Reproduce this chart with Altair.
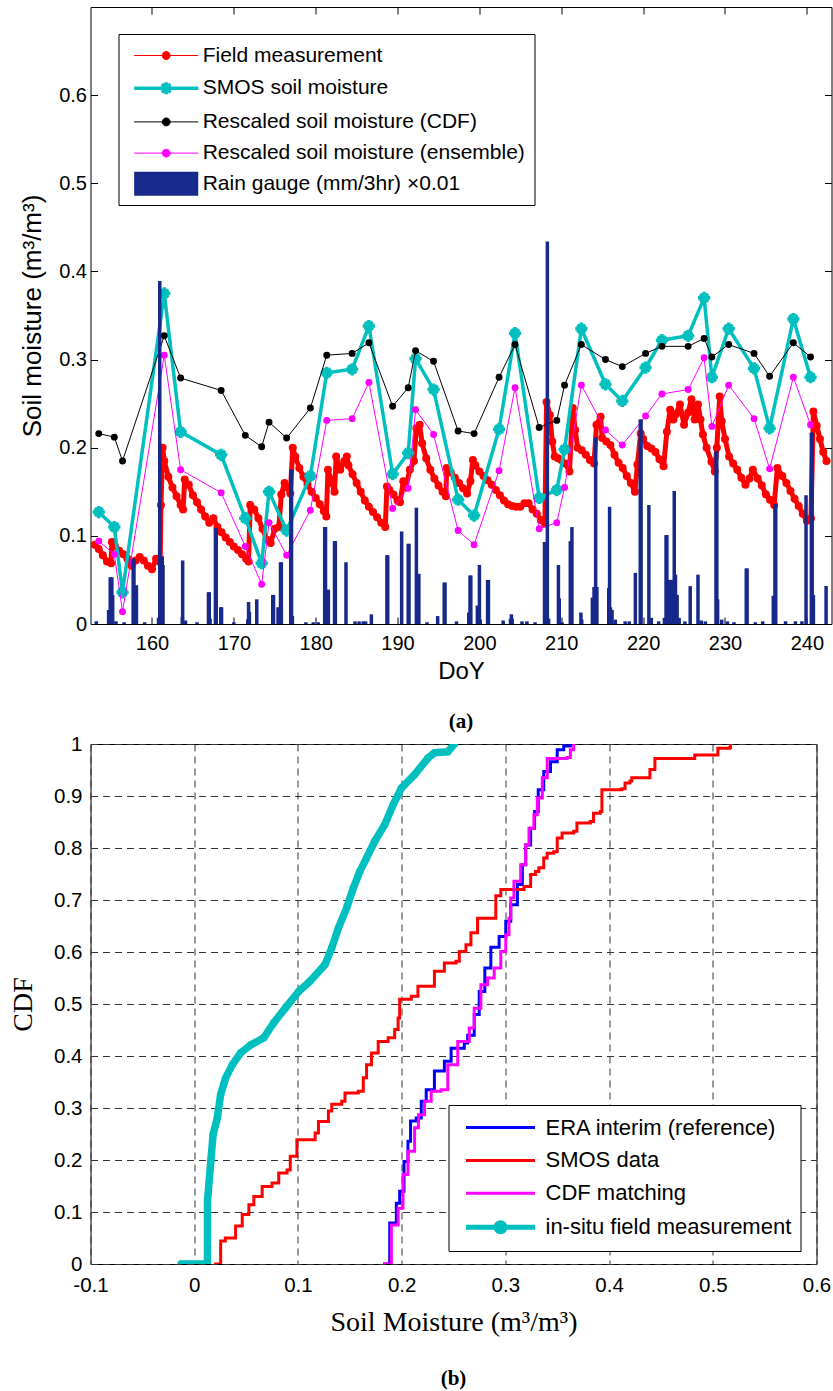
import altair as alt
import pandas as pd

SANS = "Liberation Sans"
SERIF = "Liberation Serif"
CYAN = "#00BFBF"
NAVY = "#18298C"

# ---------------- (a) soil moisture time series ----------------
# field measurement (DoY, m3/m3)
field_obs = [
    (153.0, 0.090), (153.5, 0.085), (154.0, 0.078), (154.5, 0.071), (155.0, 0.069), (155.1, 0.093),
    (155.5, 0.088), (156.0, 0.083), (156.5, 0.079), (157.0, 0.074), (157.5, 0.066), (158.0, 0.072),
    (158.5, 0.076), (159.0, 0.072), (159.5, 0.066), (160.0, 0.062), (160.5, 0.074), (161.0, 0.070),
    (161.1, 0.135), (161.3, 0.200), (161.5, 0.185), (162.0, 0.167), (162.5, 0.155), (163.0, 0.145),
    (163.5, 0.135), (163.8, 0.130), (164.0, 0.164), (164.5, 0.158), (165.0, 0.146), (165.5, 0.138),
    (166.0, 0.130), (166.5, 0.122), (167.0, 0.115), (167.5, 0.120), (168.0, 0.110), (168.5, 0.104),
    (169.0, 0.098), (169.5, 0.093), (170.0, 0.088), (170.5, 0.084), (171.0, 0.079), (171.5, 0.074),
    (171.8, 0.071), (172.0, 0.135), (172.5, 0.130), (173.0, 0.120), (173.5, 0.108), (174.0, 0.096),
    (174.5, 0.092), (175.0, 0.108), (175.5, 0.110), (175.8, 0.147), (176.2, 0.160), (176.5, 0.155),
    (176.9, 0.148), (177.2, 0.200), (177.5, 0.190), (178.0, 0.177), (178.5, 0.167), (179.0, 0.158),
    (179.5, 0.150), (180.0, 0.143), (180.5, 0.136), (181.0, 0.128), (181.3, 0.122), (181.5, 0.175),
    (182.0, 0.160), (182.3, 0.150), (182.5, 0.190), (183.0, 0.175), (183.5, 0.185), (183.8, 0.190),
    (184.0, 0.180), (184.5, 0.170), (185.0, 0.160), (185.5, 0.150), (186.0, 0.140), (186.5, 0.133),
    (187.0, 0.127), (187.5, 0.121), (188.0, 0.115), (188.5, 0.110), (188.7, 0.156), (189.0, 0.152),
    (189.5, 0.147), (190.0, 0.140), (190.3, 0.138), (190.7, 0.162), (191.0, 0.155), (191.5, 0.175),
    (192.0, 0.185), (192.3, 0.222), (192.7, 0.226), (193.0, 0.205), (193.5, 0.188), (194.0, 0.175),
    (194.5, 0.165), (195.0, 0.157), (195.5, 0.150), (195.9, 0.145), (196.0, 0.177), (196.5, 0.172),
    (197.0, 0.166), (197.5, 0.160), (198.0, 0.154), (198.5, 0.148), (198.9, 0.162), (199.2, 0.186),
    (199.5, 0.180), (200.0, 0.173), (200.5, 0.168), (201.0, 0.163), (201.5, 0.158), (202.0, 0.152),
    (202.5, 0.146), (203.0, 0.140), (203.5, 0.136), (204.0, 0.134), (204.5, 0.133), (205.0, 0.133),
    (205.5, 0.137), (206.0, 0.137), (206.5, 0.130), (207.0, 0.125), (207.5, 0.118), (208.0, 0.114),
    (208.2, 0.252), (208.6, 0.237), (208.9, 0.207), (209.2, 0.190), (209.6, 0.188), (210.0, 0.186),
    (210.5, 0.182), (211.0, 0.173), (211.4, 0.245), (211.7, 0.220), (212.0, 0.200), (212.5, 0.197),
    (213.0, 0.192), (213.5, 0.186), (214.0, 0.182), (214.3, 0.226), (214.8, 0.235), (215.0, 0.211),
    (215.5, 0.207), (216.0, 0.203), (216.5, 0.192), (217.0, 0.183), (217.5, 0.177), (218.0, 0.168),
    (218.5, 0.160), (219.0, 0.150), (219.3, 0.181), (219.7, 0.216), (220.0, 0.210), (220.5, 0.202),
    (221.0, 0.199), (221.5, 0.195), (222.0, 0.187), (222.5, 0.179), (222.9, 0.218), (223.3, 0.243),
    (223.7, 0.232), (224.0, 0.238), (224.5, 0.249), (225.0, 0.226), (225.5, 0.240), (225.9, 0.255),
    (226.3, 0.232), (226.7, 0.249), (227.0, 0.232), (227.3, 0.215), (227.75, 0.200), (228.35, 0.184),
    (228.75, 0.173), (229.0, 0.200), (229.35, 0.258), (229.6, 0.230), (230.0, 0.210), (230.5, 0.190),
    (231.0, 0.182), (231.5, 0.175), (232.0, 0.166), (232.5, 0.158), (233.0, 0.165), (233.4, 0.175),
    (234.0, 0.165), (234.5, 0.157), (235.0, 0.147), (235.5, 0.141), (236.0, 0.135), (236.4, 0.177),
    (237.0, 0.168), (237.5, 0.160), (238.0, 0.151), (238.5, 0.142), (239.0, 0.134), (239.5, 0.125),
    (240.0, 0.117), (240.5, 0.120), (240.8, 0.241), (241.2, 0.225), (241.6, 0.210), (242.0, 0.195),
    (242.4, 0.185),
]

# SMOS overpass days and the three satellite-based series
sat_doy = [153.5, 155.4, 156.4, 161.5, 163.5, 168.45, 171.4, 173.4, 174.3, 176.45, 179.35, 181.35,
           184.45, 186.5, 189.4, 191.3, 192.2, 194.4, 197.4, 199.35, 202.4, 204.35, 207.3, 209.45,
           210.4, 212.45, 215.4, 217.45, 220.3, 222.3, 225.5, 227.45, 228.4, 230.45, 233.55, 235.45,
           238.35, 240.45]
smos_sm = [0.127, 0.110, 0.036, 0.375, 0.218, 0.192, 0.120, 0.069, 0.150, 0.106, 0.168, 0.285,
           0.289, 0.338, 0.170, 0.194, 0.301, 0.266, 0.141, 0.123, 0.221, 0.330, 0.143, 0.152,
           0.198, 0.335, 0.272, 0.253, 0.291, 0.322, 0.327, 0.370, 0.280, 0.335, 0.290, 0.222,
           0.346, 0.280]
cdf_sm = [0.216, 0.212, 0.185, 0.327, 0.279, 0.265, 0.214, 0.201, 0.229, 0.211, 0.245, 0.305,
          0.307, 0.319, 0.247, 0.268, 0.310, 0.298, 0.219, 0.216, 0.280, 0.317, 0.223, 0.231,
          0.271, 0.317, 0.300, 0.292, 0.307, 0.315, 0.315, 0.324, 0.303, 0.317, 0.307, 0.281,
          0.319, 0.303]
ens_sm = [0.094, 0.079, 0.014, 0.305, 0.175, 0.149, 0.088, 0.045, 0.115, 0.078, 0.129, 0.231,
          0.233, 0.274, 0.131, 0.154, 0.243, 0.215, 0.106, 0.090, 0.174, 0.268, 0.108, 0.115,
          0.155, 0.271, 0.220, 0.203, 0.236, 0.261, 0.266, 0.302, 0.224, 0.271, 0.233, 0.176,
          0.280, 0.226]

# rain gauge (DoY, mm per 3 hr)
rain_obs = [
    (153.2, 0.3), (154.7, 1.6), (154.9, 5.3), (155.1, 5.3), (155.2, 3.3), (155.6, 0.3), (156.6, 0.2),
    (157.7, 7.4), (157.8, 7.4), (158.1, 4.4), (159.1, 0.2), (160.8, 0.7), (160.95, 38.9), (161.25, 7.7),
    (161.35, 6.7), (163.7, 0.8), (163.75, 7.2), (164.1, 0.4), (165.5, 0.2), (166.9, 3.6), (167.0, 3.6),
    (167.1, 0.6), (167.75, 10.9), (167.85, 10.9), (168.4, 1.9), (168.5, 1.9), (170.0, 0.2), (171.7, 0.5),
    (171.8, 2.5), (171.9, 1.4), (172.8, 2.8), (174.75, 3.3), (174.85, 3.3), (175.4, 1.9), (175.7, 7.0),
    (175.8, 7.0), (176.95, 17.5), (177.05, 17.5), (177.15, 0.9), (178.8, 0.2), (179.7, 0.2), (180.3, 0.2),
    (181.1, 11.0), (181.2, 11.0), (181.55, 3.9), (182.3, 9.4), (182.4, 9.4), (183.7, 7.0), (184.8, 0.3),
    (185.3, 0.3), (185.8, 0.3), (186.1, 0.3), (186.8, 1.1), (188.7, 7.8), (188.8, 7.8), (190.5, 10.5),
    (191.3, 9.1), (191.4, 9.1), (192.3, 13.2), (192.6, 5.7), (193.6, 0.2), (194.9, 0.9), (195.7, 4.7),
    (195.8, 4.7), (197.2, 0.3), (198.7, 1.3), (198.85, 5.5), (198.95, 5.5), (199.75, 2.1), (200.0, 6.7),
    (200.1, 0.5), (201.0, 5.0), (201.1, 5.0), (202.9, 0.4), (203.8, 0.6), (203.9, 1.1), (204.0, 0.6),
    (205.2, 0.3), (205.8, 0.3), (206.8, 0.2), (207.95, 9.3), (208.3, 43.4), (208.45, 0.6), (209.65, 6.7),
    (209.75, 2.9), (210.1, 0.2), (211.1, 9.4), (211.3, 11.0), (212.4, 1.3), (212.5, 0.5), (213.8, 3.0),
    (214.0, 4.2), (214.2, 21.2), (214.35, 4.2), (215.8, 4.1), (215.9, 13.3), (216.0, 1.9), (216.2, 1.6),
    (216.6, 0.5), (217.8, 0.3), (218.3, 0.3), (219.05, 5.8), (219.65, 23.2), (219.75, 23.2), (220.7, 13.5),
    (221.0, 0.7), (221.9, 0.3), (222.6, 0.7), (222.8, 10.1), (222.9, 10.1), (223.2, 5.0), (223.35, 5.0),
    (223.5, 5.0), (223.8, 15.1), (223.95, 5.6), (224.15, 3.3), (224.4, 0.7), (225.1, 0.3), (225.75, 4.3),
    (226.7, 5.6), (227.1, 0.4), (227.6, 0.3), (228.9, 19.6), (229.0, 19.6), (229.1, 2.8), (229.6, 0.5),
    (230.3, 0.3), (231.1, 0.2), (232.6, 6.3), (232.7, 6.3), (233.7, 0.2), (234.6, 0.3), (235.9, 3.2),
    (236.1, 13.6), (236.2, 13.6), (237.4, 0.3), (238.6, 0.3), (239.4, 0.3), (239.9, 14.6), (240.55, 21.7),
    (240.65, 21.7), (240.8, 3.3), (242.35, 4.3),
]
RAIN_FACTOR = 0.01

legend_a = ["Field measurement", "SMOS soil moisture", "Rescaled soil moisture (CDF)",
            "Rescaled soil moisture (ensemble)", "Rain gauge (mm/3hr) \u00d70.01"]

# ---------------- (b) empirical CDFs (soil moisture, cumulative probability) ----------------
era_cdf = [(0.1822, 0.0), (0.1885, 0.079), (0.1949, 0.117), (0.1981, 0.140), (0.2023, 0.197),
           (0.2061, 0.236), (0.2086, 0.275), (0.2141, 0.281), (0.2189, 0.313), (0.2237, 0.335),
           (0.2316, 0.371), (0.2412, 0.390), (0.2477, 0.415), (0.2604, 0.425), (0.2637, 0.440),
           (0.2700, 0.480), (0.2748, 0.524), (0.2802, 0.569), (0.2860, 0.609), (0.2940, 0.630),
           (0.3004, 0.659), (0.3052, 0.691), (0.3116, 0.730), (0.3164, 0.768), (0.3196, 0.806),
           (0.3244, 0.838), (0.3282, 0.870), (0.3317, 0.912), (0.3370, 0.947), (0.3435, 0.966),
           (0.3500, 0.989), (0.3563, 0.996), (0.3627, 1.0)]
smos_cdf = [(0.0192, 0.0), (0.0255, 0.044), (0.0300, 0.050), (0.0399, 0.073), (0.0463, 0.095),
            (0.0527, 0.114), (0.0575, 0.130), (0.0655, 0.149), (0.0750, 0.156), (0.0815, 0.175),
            (0.0895, 0.181), (0.0926, 0.207), (0.0990, 0.239), (0.1100, 0.239), (0.1166, 0.252),
            (0.1198, 0.274), (0.1294, 0.294), (0.1326, 0.307), (0.1422, 0.313), (0.1454, 0.329),
            (0.1582, 0.332), (0.1630, 0.358), (0.1662, 0.383), (0.1710, 0.406), (0.1774, 0.428),
            (0.1870, 0.435), (0.1933, 0.451), (0.1966, 0.473), (0.1981, 0.509), (0.2093, 0.515),
            (0.2157, 0.534), (0.2269, 0.534), (0.2316, 0.563), (0.2412, 0.579), (0.2524, 0.582),
            (0.2556, 0.601), (0.2620, 0.614), (0.2668, 0.637), (0.2732, 0.665), (0.2860, 0.665),
            (0.2908, 0.708), (0.2956, 0.720), (0.3083, 0.720), (0.3180, 0.726), (0.3244, 0.749),
            (0.3290, 0.755), (0.3323, 0.762), (0.3370, 0.781), (0.3403, 0.790), (0.3467, 0.793),
            (0.3500, 0.819), (0.3547, 0.829), (0.3659, 0.832), (0.3690, 0.848), (0.3819, 0.851),
            (0.3850, 0.867), (0.3915, 0.870), (0.3931, 0.912), (0.4123, 0.914), (0.4154, 0.925),
            (0.4202, 0.929), (0.4219, 0.935), (0.4346, 0.935), (0.4394, 0.951), (0.4442, 0.972),
            (0.4809, 0.972), (0.4826, 0.979), (0.5001, 0.979), (0.5049, 0.992), (0.5161, 0.993),
            (0.5170, 1.0)]
match_cdf = [(0.1822, 0.0), (0.1901, 0.075), (0.1966, 0.107), (0.2013, 0.172), (0.2061, 0.217),
             (0.2125, 0.262), (0.2163, 0.287), (0.2221, 0.313), (0.2285, 0.332), (0.2380, 0.335),
             (0.2445, 0.383), (0.2541, 0.428), (0.2652, 0.454), (0.2700, 0.492), (0.2764, 0.537),
             (0.2828, 0.550), (0.2892, 0.569), (0.2956, 0.601), (0.3004, 0.633), (0.3035, 0.665),
             (0.3052, 0.704), (0.3083, 0.736), (0.3148, 0.768), (0.3196, 0.806), (0.3228, 0.838),
             (0.3275, 0.864), (0.3308, 0.896), (0.3356, 0.935), (0.3404, 0.972), (0.3595, 0.974),
             (0.3627, 0.989), (0.3659, 1.0)]
insitu_cdf = [(-0.0125, 0.0), (0.0128, 0.0), (0.0128, 0.121), (0.0160, 0.198), (0.0182, 0.249),
              (0.0223, 0.281), (0.0255, 0.326), (0.0303, 0.358), (0.0367, 0.383), (0.0447, 0.406),
              (0.0543, 0.421), (0.0671, 0.435), (0.0767, 0.464), (0.0878, 0.492), (0.1007, 0.524),
              (0.1118, 0.544), (0.1262, 0.576), (0.1326, 0.608), (0.1390, 0.646), (0.1470, 0.685),
              (0.1534, 0.723), (0.1597, 0.755), (0.1662, 0.781), (0.1741, 0.813), (0.1837, 0.845),
              (0.1918, 0.883), (0.1997, 0.915), (0.2125, 0.941), (0.2253, 0.973), (0.2316, 0.983),
              (0.2445, 0.985), (0.2508, 1.0)]

legend_b = ["ERA interim (reference)", "SMOS data", "CDF matching", "in-situ field measurement"]

# ---------------- data frames ----------------
field_df = pd.DataFrame(field_obs, columns=["doy", "sm"])
field_df["i"] = range(len(field_df))
sat_df = pd.DataFrame({"doy": sat_doy, "smos": smos_sm, "cdf": cdf_sm, "ens": ens_sm})
sat_df["i"] = range(len(sat_df))
rain_df = pd.DataFrame(rain_obs, columns=["doy", "mm"])
rain_df["sm"] = rain_df["mm"] * RAIN_FACTOR


def cdf_frame(pairs):
    df = pd.DataFrame(pairs, columns=["sm", "p"])
    df["i"] = range(len(df))
    return df


era_df, smos_df, match_df, insitu_df = (cdf_frame(c) for c in (era_cdf, smos_cdf, match_cdf, insitu_cdf))


def key_layer(labels, colors, widths, shapes, legend):
    """Empty layer whose fill/stroke/width/shape scales build a line-and-marker legend."""
    return alt.Chart(pd.DataFrame({"series": labels})).transform_filter("false").mark_point(
        size=576, opacity=1).encode(
        fill=alt.Fill("series:N", scale=alt.Scale(domain=labels, range=colors), legend=legend),
        stroke=alt.Stroke("series:N", scale=alt.Scale(domain=labels, range=colors)),
        strokeWidth=alt.StrokeWidth("series:N",
                                    scale=alt.Scale(type="ordinal", domain=labels, range=widths)),
        shape=alt.Shape("series:N", scale=alt.Scale(domain=labels, range=shapes)),
    )


# ---------------- panel (a) ----------------
xs_a = alt.Scale(domain=[153.1, 242.4], nice=False, zero=False)
ys_a = alt.Scale(domain=[0, 0.7], nice=False, zero=False)
inward = dict(offset=-7, tickSize=7, tickColor="black", tickWidth=1, domain=False, grid=False)

ax_bottom = alt.Axis(orient="bottom", values=list(range(160, 241, 10)), format="d",
                     labelFont=SANS, labelFontSize=20, labelColor="black", labelPadding=9,
                     labelFlush=False, labelOverlap=False,
                     title="DoY", titleFont=SANS, titleFontSize=24, titleFontWeight="normal",
                     titleColor="black", titlePadding=6, **inward)
ax_left = alt.Axis(orient="left", values=[0, 0.1, 0.2, 0.3, 0.4, 0.5, 0.6], format=".1~f",
                   labelFont=SANS, labelFontSize=20, labelColor="black", labelPadding=4,
                   labelFlush=False, labelOverlap=False,
                   title="Soil moisture (m\u00b3/m\u00b3)", titleFont=SANS, titleFontSize=26,
                   titleFontWeight="normal", titleColor="black", titlePadding=13, **inward)
ax_top = alt.Axis(orient="top", values=list(range(160, 241, 10)), labels=False, title=None, **inward)
ax_right = alt.Axis(orient="right", values=[0, 0.1, 0.2, 0.3, 0.4, 0.5, 0.6], labels=False,
                    title=None, **inward)


def xa(axis=None):
    return alt.X("doy:Q", scale=xs_a, axis=axis)


def ya(field, axis=None):
    return alt.Y(f"{field}:Q", scale=ys_a, axis=axis)


star = "M-1,0L1,0M0,-1L0,1M-0.65,-0.65L0.65,0.65M-0.65,0.65L0.65,-0.65"

# field record is 3-hourly: a broad stroke under the markers renders the dense dot band
field_line = alt.Chart(field_df).mark_line(color="red", strokeWidth=5, strokeJoin="round",
                                           strokeCap="round", clip=True).encode(
    x=xa(ax_bottom), y=ya("sm", ax_left), order="i:Q")
field_pts = alt.Chart(field_df).mark_point(filled=True, size=64, color="red", opacity=1,
                                           strokeWidth=0, clip=True).encode(
    x=xa(ax_top), y=ya("sm", ax_right))
smos_line = alt.Chart(sat_df).mark_line(color=CYAN, strokeWidth=3.5, clip=True).encode(
    x=xa(), y=ya("smos"), order="i:Q")
smos_pts = alt.Chart(sat_df).mark_point(shape=star, size=150, filled=False, strokeWidth=3.5,
                                        color=CYAN, opacity=1, clip=True).encode(x=xa(), y=ya("smos"))
cdf_line = alt.Chart(sat_df).mark_line(color="black", strokeWidth=1, clip=True).encode(
    x=xa(), y=ya("cdf"), order="i:Q")
cdf_pts = alt.Chart(sat_df).mark_point(filled=True, size=48, color="black", opacity=1,
                                       strokeWidth=0, clip=True).encode(x=xa(), y=ya("cdf"))
ens_line = alt.Chart(sat_df).mark_line(color="#FF00FF", strokeWidth=1, clip=True).encode(
    x=xa(), y=ya("ens"), order="i:Q")
ens_pts = alt.Chart(sat_df).mark_point(filled=True, size=48, color="#FF00FF", opacity=1,
                                       strokeWidth=0, clip=True).encode(x=xa(), y=ya("ens"))
rain_bars = alt.Chart(rain_df).mark_bar(color=NAVY, size=3.5, orient="vertical", clip=True).encode(
    x=xa(), y=ya("sm"))

# legend keys (unit = 12 px): line sample with its marker, as one symbol path
dot_a = "M-0.33,0A0.33,0.33 0 1,0 0.33,0A0.33,0.33 0 1,0 -0.33,0"
keys_a = ["M-2.67,0L2.67,0" + dot_a,
          "M-2.67,0L2.67,0M0,-0.5L0,0.5M-0.35,-0.35L0.35,0.35M-0.35,0.35L0.35,-0.35",
          "M-2.67,0L2.67,0" + dot_a,
          "M-2.67,0L2.67,0" + dot_a,
          "M-2.67,-1L2.67,-1L2.67,1L-2.67,1Z"]
colors_a = ["red", CYAN, "black", "#FF00FF", NAVY]
widths_a = [1, 3.5, 1, 1, 0]

legend_box_a = alt.Legend(orient="none", legendX=28, legendY=27, title=None, direction="vertical",
                          labelFont=SANS, labelFontSize=21, labelColor="black", labelLimit=0,
                          fillColor="white", strokeColor="black", padding=9, rowPadding=8.2,
                          symbolOffset=24.7, labelOffset=22.5, symbolSize=576)
key_a = key_layer(legend_a, colors_a, widths_a, keys_a, legend_box_a)

panel_a = alt.layer(field_line, field_pts, smos_line, smos_pts, cdf_line, cdf_pts, ens_line,
                    ens_pts, rain_bars, key_a).resolve_axis(
    x="independent", y="independent").properties(
    width=741, height=617,
    title=alt.TitleParams("(a)", orient="bottom", font=SERIF, fontSize=21, fontWeight="bold",
                          color="black", anchor="middle", offset=28))

# ---------------- panel (b) ----------------
xs_b = alt.Scale(domain=[-0.1, 0.6], nice=False, zero=False)
ys_b = alt.Scale(domain=[0, 1], nice=False, zero=False)
grid = dict(grid=True, gridDash=[7, 5], gridColor="#333333", gridWidth=1, ticks=False, domain=False,
            labelFont=SANS, labelFontSize=20.5, labelColor="black", labelFlush=False,
            labelOverlap=False, titleFont=SERIF, titleFontSize=28, titleFontWeight="normal",
            titleColor="black", labelExpr="replace(datum.label, '\u2212', '-')")
ax_bx = alt.Axis(values=[-0.1, 0, 0.1, 0.2, 0.3, 0.4, 0.5, 0.6], format=".1~f", labelPadding=11,
                 title="Soil Moisture (m\u00b3/m\u00b3)", titlePadding=12.5, **grid)
ax_by = alt.Axis(values=[0, 0.1, 0.2, 0.3, 0.4, 0.5, 0.6, 0.7, 0.8, 0.9, 1], format=".1~f",
                 labelPadding=8.5, title="CDF", titlePadding=16.5, **grid)


def xb():
    return alt.X("sm:Q", scale=xs_b, axis=ax_bx)


def yb():
    return alt.Y("p:Q", scale=ys_b, axis=ax_by)


era_line = alt.Chart(era_df).mark_line(color="#0000FF", strokeWidth=3, interpolate="step-after",
                                       clip=True).encode(x=xb(), y=yb(), order="i:Q")
smos_cdf_line = alt.Chart(smos_df).mark_line(color="#FF0000", strokeWidth=3,
                                             interpolate="step-after", clip=True).encode(
    x=xb(), y=yb(), order="i:Q")
match_line = alt.Chart(match_df).mark_line(color="#FF00FF", strokeWidth=3, interpolate="step-after",
                                           clip=True).encode(x=xb(), y=yb(), order="i:Q")
insitu_line = alt.Chart(insitu_df).mark_line(color=CYAN, strokeWidth=7.5, strokeCap="round",
                                             strokeJoin="round", clip=True).encode(
    x=xb(), y=yb(), order="i:Q")
insitu_pts = alt.Chart(insitu_df).mark_point(filled=True, size=55, color=CYAN, opacity=1,
                                             strokeWidth=0, clip=True).encode(x=xb(), y=yb())

dot_b = "M-0.375,0A0.375,0.375 0 1,0 0.375,0A0.375,0.375 0 1,0 -0.375,0"
keys_b = ["M-2.875,0L2.875,0", "M-2.875,0L2.875,0", "M-2.875,0L2.875,0", "M-2.875,0L2.875,0" + dot_b]
colors_b = ["#0000FF", "#FF0000", "#FF00FF", CYAN]
widths_b = [3, 3, 3, 5]

legend_box_b = alt.Legend(orient="none", legendX=358, legendY=361, title=None, direction="vertical",
                          labelFont=SANS, labelFontSize=22, labelColor="black", labelLimit=0,
                          fillColor="white", strokeColor="black", padding=9, rowPadding=7.9,
                          symbolOffset=28.5, labelOffset=30.5, symbolSize=576)
key_b = key_layer(legend_b, colors_b, widths_b, keys_b, legend_box_b)

panel_b = alt.layer(era_line, smos_cdf_line, match_line, insitu_line, insitu_pts, key_b).properties(
    width=726, height=520,
    title=alt.TitleParams("(b)", orient="bottom", font=SERIF, fontSize=21, fontWeight="bold",
                          color="black", anchor="middle", offset=32))

chart = alt.vconcat(panel_a, panel_b, spacing=0).resolve_scale(
    x="independent", y="independent", fill="independent", stroke="independent",
    strokeWidth="independent", shape="independent").resolve_legend(
    fill="independent", stroke="independent", strokeWidth="independent", shape="independent"
).properties(
    padding={"left": 8.5, "top": 6, "right": 0, "bottom": 0}, background="white"
).configure_view(stroke="black", strokeWidth=1)

chart.save("out.html", embed_options={"renderer": "svg", "actions": False})
